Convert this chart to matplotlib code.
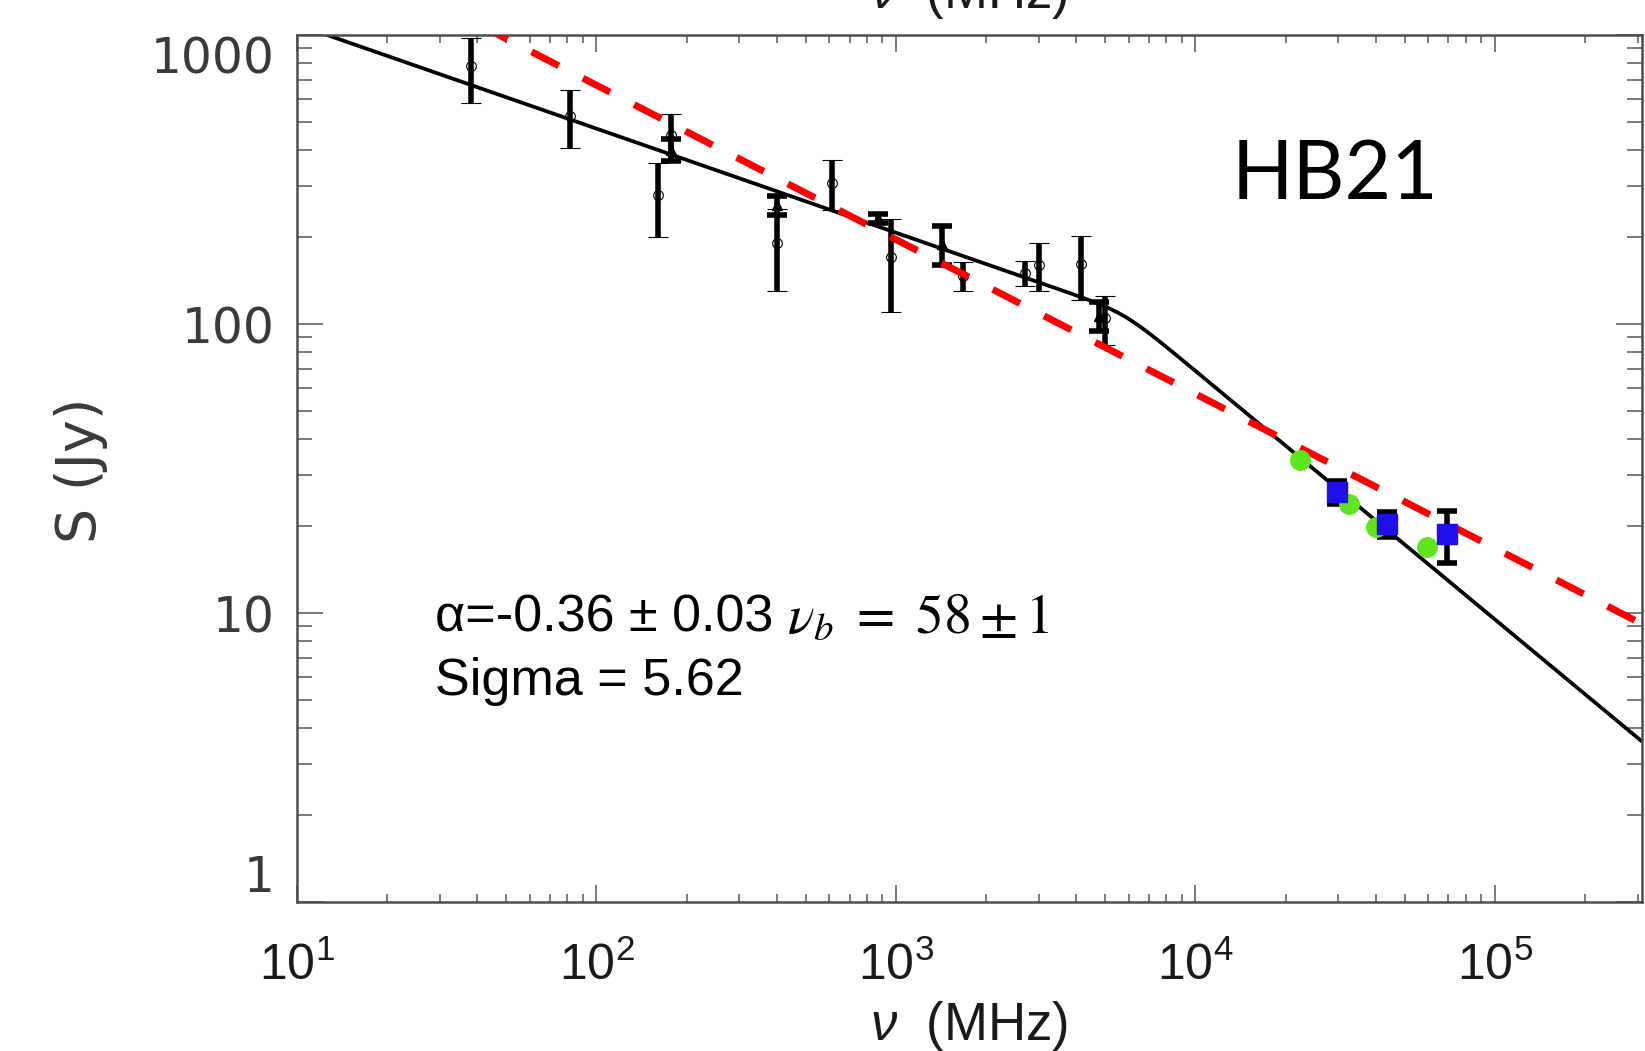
import numpy as np
import matplotlib
matplotlib.use('Agg')
import matplotlib.pyplot as plt
from matplotlib.ticker import FixedLocator, NullFormatter


plt.rcParams['mathtext.fontset'] = 'custom'
plt.rcParams['mathtext.rm'] = 'Liberation Sans'
plt.rcParams['mathtext.it'] = 'Liberation Sans:italic'


# radio flux densities, open circles (MHz, Jy)
nu_radio = [38, 81.5, 160, 178, 400, 610, 960, 1680, 2700, 3000, 4150, 5000]
s_radio = [780, 526, 280, 450, 190, 308, 170, 147, 150, 160, 161, 104.5]
e_radio = [200, 120, 80, 85, 60, 60, 60, 17, 15, 30, 40, 20]

# radio flux densities, filled triangles
nu_tri = [178, 400, 870, 1420, 4750]
s_tri = [400, 258, 232, 189, 107]
e_tri = [35, 20, 8, 29, 12.5]

# WMAP
nu_wmap = [22400, 32600, 40000, 59500]
s_wmap = [33.8, 23.8, 19.9, 16.9]

# Planck
nu_planck = [29800, 43700, 69400]
s_planck = [26.3, 20.3, 18.7]
e_planck = [2.4, 2.0, 3.8]

# broken power law fit (black) and single power law (red dashed)
alpha = -0.36
nu_break = 5800.
s_break = 110.
alpha_red = -0.534
s_red_1ghz = 196.

xticks = [1e1, 1e2, 1e3, 1e4, 1e5]
xtick_labels = [r'$10^{1}$', r'$10^{2}$', r'$10^{3}$', r'$10^{4}$', r'$10^{5}$']
yticks = [1, 10, 100, 1000]
ytick_labels = ['1', '10', '100', '1000']

W, H = 1645, 1051


def fx(px):
    return px / W


def fy(py):
    return 1 - py / H


fig = plt.figure(figsize=(W / 100, H / 100), dpi=100)
ax = fig.add_axes([fx(297), fy(902), (1642 - 297) / W, (902 - 35) / H])
ax.set_xscale('log')
ax.set_yscale('log')
ax.set_xlim(10, 3.1e5)
ax.set_ylim(1, 1000)

nu = np.logspace(1, np.log10(3.1e5), 600)
k = 10.
s_fit = s_break * (nu / nu_break) ** alpha * (1 + (nu / nu_break) ** k) ** (-0.5 / k)
ax.plot(nu, s_fit, color='black', lw=2.7, zorder=2, solid_capstyle='butt')

s_red = s_red_1ghz * (nu / 1000.) ** alpha_red
ax.plot(nu, s_red, color='#ff0000', lw=5, ls=(0, (4.4, 3.9)), zorder=4)

ebar = dict(ecolor='black', elinewidth=4.0, capsize=7, capthick=4.0, ls='none')
ax.errorbar(nu_radio, s_radio, yerr=e_radio, marker='o', ms=7, mfc='none',
            mec='black', mew=0.8, zorder=3, **ebar)
ax.errorbar(nu_tri, s_tri, yerr=e_tri, marker='^', ms=7, mfc='black',
            mec='black', zorder=3, **ebar)
ax.errorbar(nu_planck, s_planck, yerr=e_planck, marker='none', zorder=3, **ebar)

ax.plot(nu_wmap, s_wmap, 'o', ms=14, color='#5ee61c', mec='#5ee61c', zorder=5)
ax.plot(nu_planck, s_planck, 's', ms=14, color='#1f0fe8', mec='#1f0fe8', zorder=6)

# axes cosmetics
for sp in ax.spines.values():
    sp.set_color('#4d4d4d')
    sp.set_linewidth(1.8)

ax.xaxis.set_major_locator(FixedLocator(xticks))
ax.set_xticklabels(xtick_labels)
minx = [m * 10 ** e for e in range(1, 6) for m in range(2, 10)]
ax.xaxis.set_minor_locator(FixedLocator(minx))
ax.xaxis.set_minor_formatter(NullFormatter())

ax.yaxis.set_major_locator(FixedLocator(yticks))
ax.set_yticklabels(ytick_labels)
miny = [m * 10 ** e for e in range(0, 3) for m in range(2, 10)]
ax.yaxis.set_minor_locator(FixedLocator(miny))
ax.yaxis.set_minor_formatter(NullFormatter())

ax.tick_params(axis='both', which='both', direction='in', top=True, right=True,
               color='#555555', width=1.1)
ax.tick_params(axis='x', which='major', length=12.5, pad=29, labelsize=36,
               labelcolor='#1a1a1a')
ax.tick_params(axis='x', which='minor', length=6)
ax.tick_params(axis='y', which='major', length=19, pad=16, labelsize=35,
               labelcolor='#3a3a3a')
ax.tick_params(axis='y', which='minor', length=11)

ylabs = ax.get_yticklabels()
ylabs[0].set_va('bottom')
ylabs[-1].set_va('top')

# axis titles
fig.text(fx(81), fy(470), 'S (Jy)', rotation=90, ha='center', va='center',
         fontsize=40, color='#3a3a3a')
fig.text(fx(969), fy(1040), r'$\nu$  (MHz)', ha='center', va='baseline',
         fontsize=38, family='Liberation Sans', color='#1a1a1a')
fig.text(fx(969), fy(8), r'$\nu$  (MHz)', ha='center', va='baseline',
         fontsize=38, family='Liberation Sans', color='#1a1a1a')

# source name and fit results
fig.text(fx(1232), fy(199), 'HB21', ha='left', va='baseline',
         fontsize=58, family=['Lato', 'DejaVu Sans'], color='black')
fig.text(fx(435), fy(632), 'α=-0.36 ± 0.03', ha='left', va='baseline',
         fontsize=37.5, family='Liberation Sans', color='black')
fig.text(fx(787), fy(632), r'$\nu_b\ =\ 58 \pm 1$', ha='left', va='baseline',
         fontsize=40, math_fontfamily='stix', color='black')
fig.text(fx(435), fy(695), 'Sigma = 5.62', ha='left', va='baseline',
         fontsize=37.5, family='Liberation Sans', color='black')

fig.savefig('out.png', dpi=100)
